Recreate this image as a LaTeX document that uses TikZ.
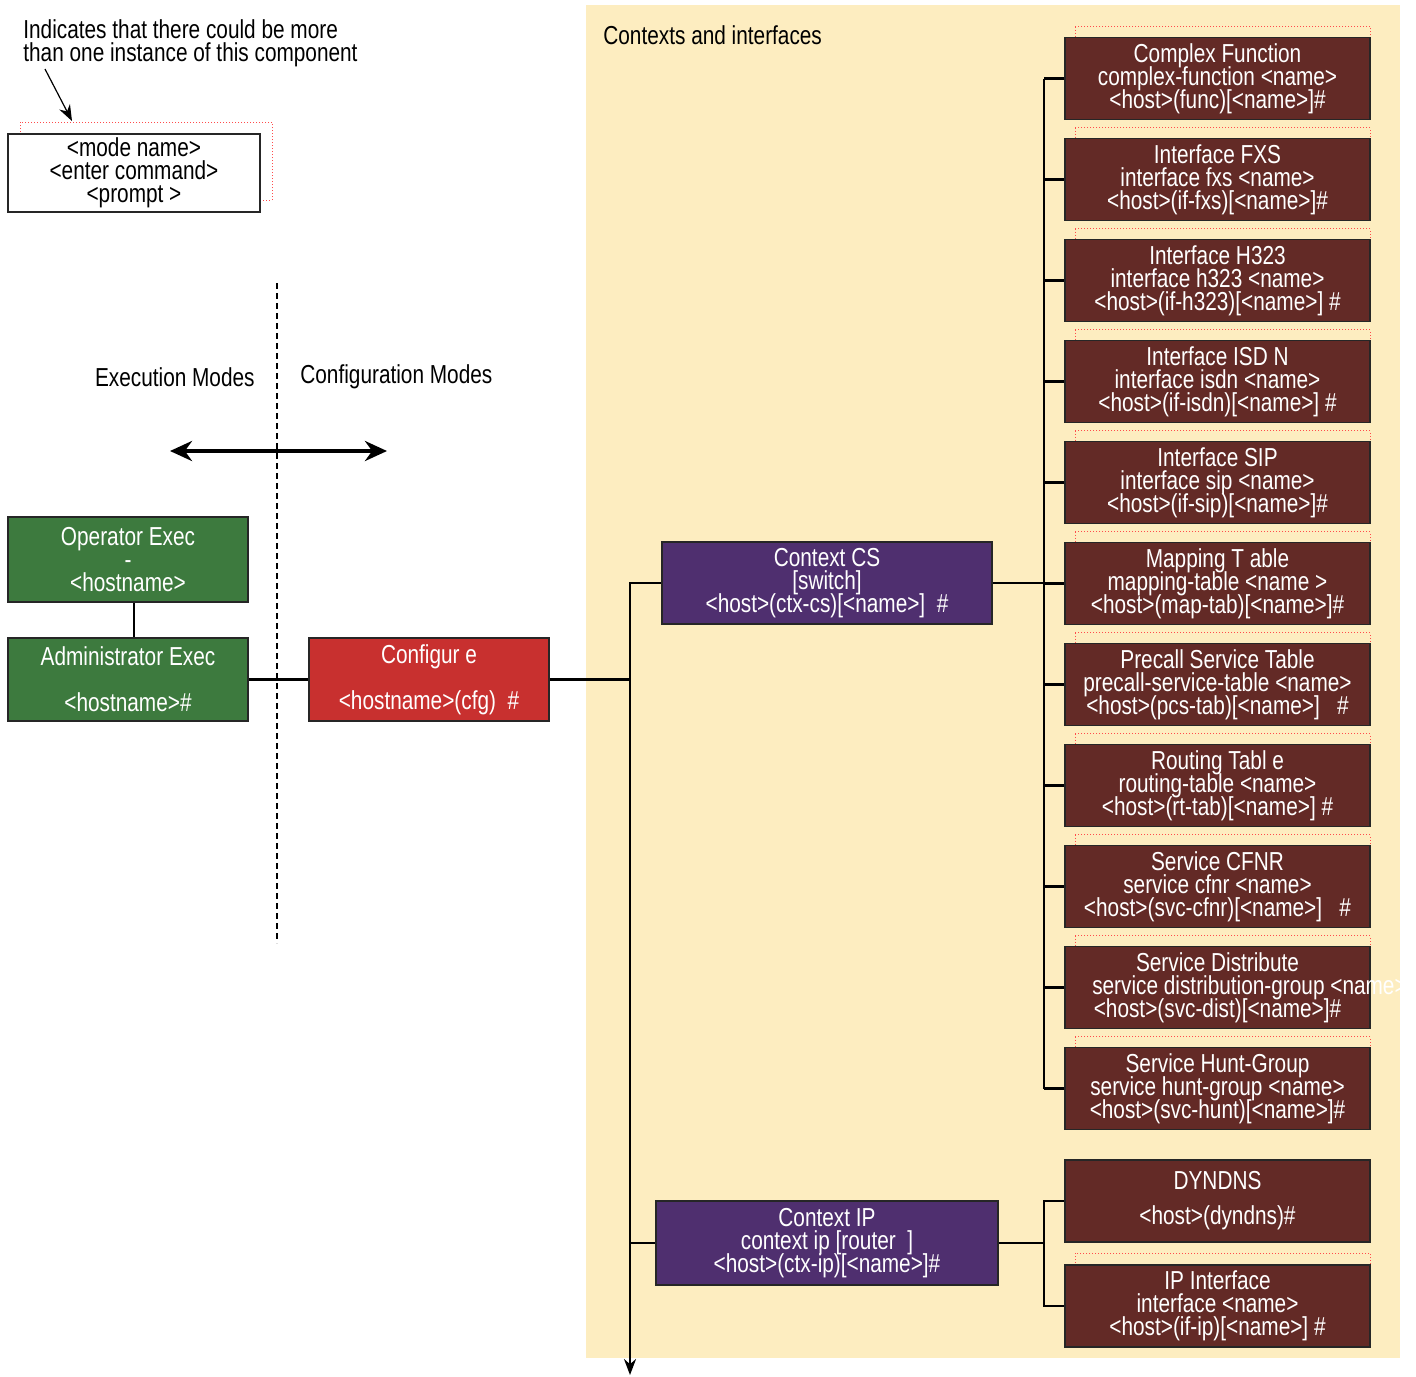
\documentclass[tikz,border=0pt]{standalone}
\usepackage{fontspec}
\setmainfont[FakeStretch=0.8]{Liberation Sans}
\usepackage{tikz}
\usetikzlibrary{arrows.meta}

\definecolor{modegreen}{HTML}{3D7A3E}
\definecolor{modered}{HTML}{C8302F}
\definecolor{ctxpurple}{HTML}{4F2F6F}
\definecolor{ctxbrown}{HTML}{632A26}
\definecolor{ctxbg}{HTML}{FDEDC0}
\newcommand{\modefont}{\fontsize{13}{11.5}\selectfont\lineskiplimit=-20pt}

\begin{document}
\begin{tikzpicture}[x=0.5pt,y=-0.5pt]
      \tikzstyle{box} = [draw=black!85, line width=0.8pt, rectangle,
                         align=center, inner sep=0pt, text=white,
                         font=\modefont,
                         execute at begin node={\rule{0pt}{13.5pt}}]
      \tikzstyle{boxwhite} = [box, text=black, fill=white,
                              minimum width=126pt, minimum height=39pt]
      \tikzstyle{boxgreen} = [box, fill=modegreen, minimum width=120pt]
      \tikzstyle{boxred} = [box, fill=modered, minimum width=120pt,
                            minimum height=41.5pt]
      \tikzstyle{boxpurple} = [box, fill=ctxpurple, minimum height=41pt]
      \tikzstyle{boxbrown} = [box, fill=ctxbrown, minimum width=152.5pt,
                              minimum height=41pt]
      \tikzstyle{caption} = [inner sep=0pt, font=\modefont]
      \tikzstyle{shadowline} = [draw=red!70, densely dotted, line width=0.5pt]
      \tikzstyle{wire} = [line width=1.2pt]

      \useasboundingbox (0,0) rectangle (1416,1376);

      % contexts area
      \fill[ctxbg] (586,5) rectangle (1400,1358);
      \node[caption, anchor=west] (ctxtitle) at (603,35) {Contexts and interfaces};

      % legend
      \node[caption, anchor=west, align=left] (note) at (23,43)
           {Indicates that there could be more\\than one instance of this component};
      \draw[shadowline] (20,122) rectangle (272,200);
      \node[boxwhite] (legend) at (134,173) {<mode name>\\<enter command>\\<prompt >};
      \coordinate (notetip) at (72,121);
      \draw[-{Stealth[length=8pt,width=6pt]}, line width=0.6pt]
           ([xshift=11pt,yshift=-1pt]note.south west) -- (notetip);

      % mode divider
      \coordinate (divtop) at (277,283);
      \coordinate (divbot) at (277,943);
      \draw[dash pattern=on 3pt off 2pt, line width=0.6pt] (divtop) -- (divbot);
      \node[caption, anchor=east] (execlbl) at (255,377) {Execution Modes};
      \node[caption, anchor=west] (cfglbl) at (300,377) {Configuration Modes};
      \coordinate (dirl) at (170,451);
      \coordinate (dirr) at (387,451);
      \draw[{Stealth[length=11pt,width=10pt]}-{Stealth[length=11pt,width=10pt]},
            line width=2pt] (dirl) -- (dirr);

      % exec and config modes
      \node[boxgreen, minimum height=42.5pt] (oper) at (128,559.5)
           {Operator Exec\\{-}\\<hostname>};
      \node[boxgreen, minimum height=41.5pt] (admin) at (128,679.5)
           {Administrator Exec\\[11.5pt]<hostname>\#};
      \node[boxred] (cfg) at (429,679.5) {Configur e\\[11.5pt]<hostname>(cfg)~~\#};

      % contexts
      \node[boxpurple, minimum width=165pt] (ccs) at (827,583)
           {Context CS\\{[switch]}\\<host>(ctx-cs)[<name>]~~\#};
      \node[boxpurple, minimum width=171pt, minimum height=42pt] (cip) at (827,1243)
           {Context IP\\context ip [router~~]\\<host>(ctx-ip)[<name>]\#};

      % sub-modes of context cs
      \foreach \c in {78.5,179.5,...,1088.5}
        \draw[shadowline] (1075,\c-52) rectangle (1370,\c+30);
      \draw[shadowline] (1075,1253) rectangle (1370,1330);

      \begin{scope}
      \clip (0,0) rectangle (1400,1376);
      \node[boxbrown] (cf) at (1217.5,78.5)
           {Complex Function\\complex-function <name>\\<host>(func)[<name>]\#};
      \node[boxbrown] (fxs) at (1217.5,179.5)
           {Interface FXS\\interface fxs <name>\\<host>(if-fxs)[<name>]\#};
      \node[boxbrown] (h323) at (1217.5,280.5)
           {Interface H323\\interface h323 <name>\\<host>(if-h323)[<name>] \#};
      \node[boxbrown] (isdn) at (1217.5,381.5)
           {Interface ISD N\\interface isdn <name>\\<host>(if-isdn)[<name>] \#};
      \node[boxbrown] (sip) at (1217.5,482.5)
           {Interface SIP\\interface sip <name>\\<host>(if-sip)[<name>]\#};
      \node[boxbrown] (maptab) at (1217.5,583.5)
           {Mapping T able\\mapping-table <name >\\<host>(map-tab)[<name>]\#};
      \node[boxbrown] (pcstab) at (1217.5,684.5)
           {Precall Service Table\\precall-service-table <name>\\<host>(pcs-tab)[<name>]~~~\#};
      \node[boxbrown] (rttab) at (1217.5,785.5)
           {Routing Tabl e\\routing-table <name>\\<host>(rt-tab)[<name>] \#};
      \node[boxbrown] (cfnr) at (1217.5,886.5)
           {Service CFNR\\service cfnr <name>\\<host>(svc-cfnr)[<name>]~~~\#};
      \node[boxbrown] (dist) at (1217.5,987.5)
           {Service Distribute\\\makebox[0pt]{\hspace*{32pt}service distribution-group <name>}\\<host>(svc-dist)[<name>]\#};
      \node[boxbrown] (hunt) at (1217.5,1088.5)
           {Service Hunt-Group\\service hunt-group <name>\\<host>(svc-hunt)[<name>]\#};
      \end{scope}

      % sub-modes of context ip
      \node[boxbrown] (dyn) at (1217.5,1201) {DYNDNS\\[6pt]<host>(dyndns)\#};
      \node[boxbrown] (ipif) at (1217.5,1306)
           {IP Interface\\interface <name>\\<host>(if-ip)[<name>] \#};

      % wiring
      \draw[wire] ([xshift=3pt]oper.south) -- ([xshift=3pt]admin.north);
      \draw[wire] (admin.east) -- (cfg.west);

      \coordinate (trunkend) at (630,1375);
      \draw[wire, -{Stealth[length=8pt,width=6pt]}] (ccs.west) -| (trunkend);
      \draw[wire] (cfg.east) -- (cfg.east -| trunkend);
      \draw[wire] (cip.west) -- (cip.west -| trunkend);

      \coordinate (bustop) at (1044,78.5);
      \coordinate (busbot) at (1044,1088.5);
      \draw[wire] (bustop) -- (busbot);
      \foreach \n in {cf,fxs,h323,isdn,sip,maptab,pcstab,rttab,cfnr,dist,hunt}
        \draw[wire] (\n.west) -- (\n.west -| bustop);
      \draw[wire] (ccs.east) -- (ccs.east -| bustop);

      \coordinate (ipbus) at (1044,1201);
      \draw[wire] (dyn.west) -- (ipbus) -- (ipif.west -| ipbus) -- (ipif.west);
      \draw[wire] (cip.east) -- (cip.east -| ipbus);
\end{tikzpicture}
\end{document}
